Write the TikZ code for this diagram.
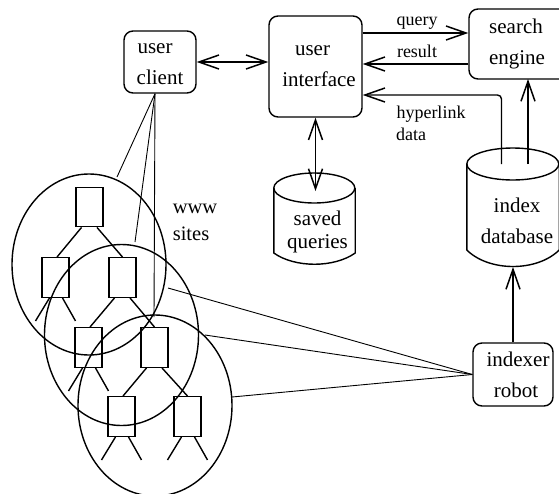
\documentclass[tikz,border=0pt]{standalone}
\usepackage{fontspec}
\setmainfont{Liberation Serif}
\usetikzlibrary{arrows.meta,shapes.geometric,calc}
\tikzset{
  ln/.style={line width=1.4pt,black},
  heavy ln/.style={line width=1.7pt,black},
  thin ln/.style={line width=0.9pt,black},
  vee/.tip={Straight Barb[length=20pt,width=14pt,line width=1.5pt]},
  rbox/.style={ln,draw,rounded corners=9pt,inner sep=0pt,align=center,font=\fontsize{21}{31}\selectfont},
  cyl/.style={inner sep=0pt,align=center,font=\fontsize{21}{31}\selectfont},
  site/.style={ln,draw,ellipse,inner sep=0pt,minimum width=154pt,minimum height=181pt},
  page/.style={ln,draw,inner sep=0pt,minimum width=27pt,minimum height=39.5pt},
  lab/.style={inner sep=0pt,font=\fontsize{18}{20}\selectfont},
  wlab/.style={inner sep=0pt,font=\fontsize{20.5}{25}\selectfont,align=left},
}
\begin{document}
\begin{tikzpicture}[x=1pt,y=-1pt]
\clip (0,0) rectangle (559,493);
% boxes
\node[rbox,minimum width=72pt,minimum height=62pt,text depth=0pt] (client) at (160,62) {\raisebox{-4pt}{\hspace*{0pt}}\hspace*{-10pt}\raisebox{-4pt}{user}\\\raisebox{-4pt}{client}};
\node[rbox,minimum width=93pt,minimum height=101pt] (ui) at (315.5,66.5) {\hspace*{-6pt}user\\\hspace*{7pt}interface};
\node[rbox,minimum width=106pt,minimum height=70pt] (search) at (522,44) {\hspace*{-12pt}\raisebox{1pt}{search}\\\hspace*{-10pt}\raisebox{1pt}{engine}};
\node[rbox,minimum width=80pt,minimum height=63pt] (robot) at (513,374.5) {\hspace*{10pt}indexer\\\hspace*{6pt}robot};
% cylinders
\node[cyl,minimum width=81pt,minimum height=60pt,font=\fontsize{21}{22.5}\selectfont] (saved) at (314.5,232) {\hspace*{6pt}saved\\\hspace*{6pt}queries};
\draw[ln] (saved.west |- 0,188) arc[start angle=180,end angle=-180,x radius=40.5,y radius=15];
\draw[ln] (saved.west |- 0,188) -- (saved.west |- 0,253) .. controls (295,268) and (334,268) .. (saved.east |- 0,253) -- (saved.east |- 0,188);
\node[cyl,minimum width=92pt,minimum height=103pt] (index) at (513,221) {\hspace*{8pt}index\\\hspace*{8pt}database};
\draw[ln] (index.west |- 0,164) arc[start angle=180,end angle=-180,x radius=46,y radius=16];
\draw[ln] (index.west |- 0,164) -- (index.west |- 0,250) .. controls (489,272) and (537,272) .. (index.east |- 0,250) -- (index.east |- 0,164);
% connectors of the upper part
\coordinate (hyp) at (501.5,95);
\draw[thin ln,line width=1.2pt,{vee}-{vee}] (client.east) -- (ui.west |- client.east);
\draw[heavy ln,-{vee}] (ui.east |- 0,33) -- (search.west |- 0,33);
\draw[heavy ln,-{vee}] (search.west |- 0,64) -- (ui.east |- 0,64);
\draw[ln,-{vee},rounded corners=4pt] (501.5,164) -- (hyp) -- (ui.east |- hyp);
\draw[ln,-{vee}] (528,164) -- (528 ,79);
\draw[ln,{vee}-{vee}] (ui.south) -- (ui.south |- 0,191);
\draw[heavy ln,-{vee}] (robot.north) -- (robot.north |- 0,267);
% sites
\node[site] (c1) at (89,264.5) {};
\node[site] (c2) at (121.5,335) {};
\node[site] (c3) at (155,405.5) {};
\node[page] (b1) at (89.5,207) {};
\node[page] (b2) at (55.5,277.5) {};
\node[page] (b3) at (122.5,277.5) {};
\node[page] (b4) at (88.5,347.5) {};
\node[page] (b5) at (154.5,347.5) {};
\node[page] (b6) at (121.5,416.5) {};
\node[page] (b7) at (187.5,416.5) {};
\foreach \p/\l/\r in {b1/b2/b3,b3/b4/b5,b5/b6/b7}{
  \draw[ln] ([xshift=-8pt]\p.south) -- ([xshift=1.5pt]\l.north);
  \draw[ln] ([xshift=7.5pt]\p.south) -- (\r.north);
}
\foreach \p in {b2,b4,b6,b7}{
  \draw[ln] ([xshift=-6pt]\p.south) -- ++(-14,23);
  \draw[ln] ([xshift=7pt]\p.south) -- ++(13,23);
}
% client lines
\coordinate (e1) at (117,177);
\coordinate (e2) at (135,242);
\coordinate (e3) at (154,317);
\foreach \e in {e1,e2,e3}{\draw[thin ln] (client.south -| 155,0) -- (\e);}
% robot lines
\coordinate (r1) at (168,288);
\coordinate (r2) at (205,335);
\coordinate (r3) at (232,397);
\foreach \e in {r1,r2,r3}{\draw[thin ln] (robot.west) -- (\e);}
% labels
\node[lab,anchor=base] (lq) at (417,25) {query};
\node[lab,anchor=base] (lr) at (417,57) {result};
\node[lab,anchor=base] (lh) at (431,118) {hyperlink};
\node[lab,anchor=base] (ld) at (411,140) {data};
\node[wlab] (lw) at (195,209) {www};
\node[wlab] (ls) at (191,234) {sites};
\end{tikzpicture}
\end{document}
